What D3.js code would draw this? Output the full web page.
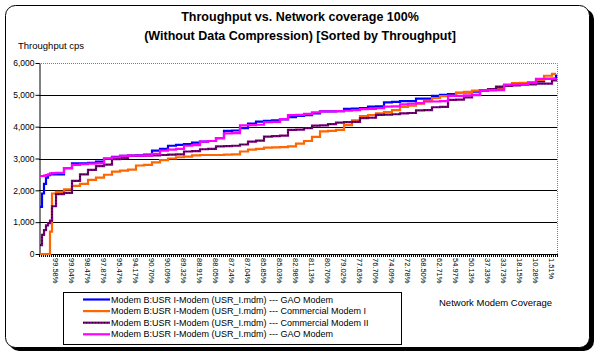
<!DOCTYPE html>
<html>
<head>
<meta charset="utf-8">
<script src="https://cdn.jsdelivr.net/npm/d3@7/dist/d3.min.js"></script>
<style>
	body { margin: 0; background: #fff; }
	text { font-family: Arial, "Liberation Sans", sans-serif; fill: #000; }
</style>
</head>
<body>
<div id="chart"></div>
<script>
// Category axis: 259 coverage points, one label every 8th point
var nCategories = 259;
var tickLabels = ["99.58%", "99.04%", "98.47%", "97.87%", "95.47%", "94.17%", "90.70%", "90.09%",
	"89.32%", "88.91%", "88.05%", "87.24%", "87.04%", "85.85%", "85.03%", "82.98%",
	"81.13%", "80.70%", "79.02%", "77.63%", "76.70%", "74.09%", "72.78%", "68.50%",
	"62.71%", "54.97%", "50.13%", "37.33%", "33.73%", "18.15%", "10.28%", "1.51%"];
var yTicks = [0, 1000, 2000, 3000, 4000, 5000, 6000];

// category index of each sampled value
var sampleIdx = [0, 1, 2, 3, 4, 5, 6,
	8, 12, 16, 20, 24, 28, 32, 36, 40, 44,
	48, 52, 56, 60, 64, 68, 72, 76, 80, 84,
	88, 92, 96, 100, 104, 108, 112, 116, 120, 124,
	128, 132, 136, 140, 144, 148, 152, 156, 160, 164,
	168, 172, 176, 180, 184, 188, 192, 196, 200, 204,
	208, 212, 216, 220, 224, 228, 232, 236, 240, 244,
	248, 252, 256,
	258];

var gaoModemA = [1480, 1900, 2200, 2400, 2480, 2500, 2500,
	2500, 2700, 2850, 2850, 2860, 2900, 3000, 3050, 3080, 3090,
	3100, 3120, 3250, 3300, 3400, 3430, 3450, 3500, 3530, 3550,
	3640, 3870, 3880, 3950, 4100, 4160, 4180, 4200, 4230, 4300,
	4340, 4360, 4420, 4480, 4480, 4490, 4560, 4570, 4580, 4630,
	4640, 4760, 4780, 4800, 4800, 4880, 4880, 4970, 5000, 5020,
	5060, 5080, 5100, 5140, 5150, 5220, 5300, 5320, 5370, 5380,
	5420, 5500, 5500,
	5640];

var commercialI = [0, 0, 0, 0, 0, 700, 1900,
	1950, 2030, 2140, 2200, 2330, 2400, 2490, 2590, 2620, 2650,
	2780, 2800, 2880, 2950, 3000, 3040, 3060, 3100, 3110, 3110,
	3110, 3120, 3130, 3220, 3280, 3300, 3340, 3350, 3360, 3380,
	3470, 3550, 3680, 3850, 3870, 3900, 4050, 4200, 4330, 4360,
	4420, 4460, 4520, 4620, 4660, 4720, 4800, 4900, 4960, 4970,
	5060, 5090, 5130, 5150, 5160, 5170, 5280, 5370, 5380, 5400,
	5470, 5600, 5660,
	5660];

var commercialII = [280, 600, 750, 900, 970, 1050, 1500,
	1880, 1920, 2300, 2500, 2640, 2760, 2810, 2980, 3020, 3080,
	3080, 3090, 3100, 3110, 3120, 3130, 3220, 3230, 3290, 3300,
	3380, 3390, 3400, 3440, 3530, 3560, 3690, 3700, 3720, 3900,
	3910, 3950, 4030, 4040, 4080, 4130, 4140, 4150, 4270, 4280,
	4370, 4380, 4390, 4420, 4430, 4510, 4520, 4610, 4620, 4840,
	4850, 4920, 5000, 5140, 5180, 5260, 5280, 5300, 5320, 5330,
	5350, 5350, 5450,
	5500];

var gaoModemB = [2450, 2450, 2460, 2480, 2500, 2530, 2540,
	2550, 2700, 2800, 2820, 2840, 2850, 3000, 3040, 3080, 3090,
	3090, 3100, 3150, 3250, 3280, 3300, 3400, 3420, 3530, 3550,
	3640, 3790, 3800, 4040, 4050, 4060, 4140, 4150, 4240, 4360,
	4370, 4400, 4450, 4480, 4480, 4490, 4500, 4520, 4550, 4560,
	4580, 4630, 4640, 4700, 4720, 4740, 4790, 4790, 4800, 4970,
	4970, 4980, 4990, 5140, 5150, 5150, 5320, 5330, 5340, 5380,
	5500, 5500, 5510,
	5520];

var seriesNames = ["Modem B:USR I-Modem (USR_I.mdm) ---  GAO Modem",
	"Modem B:USR I-Modem (USR_I.mdm) ---  Commercial Modem I",
	"Modem B:USR I-Modem (USR_I.mdm) ---  Commercial Modem II",
	"Modem B:USR I-Modem (USR_I.mdm) ---  GAO Modem"];

var width = 600, height = 354;
var plot = {left: 39, right: 557, top: 63, bottom: 254};

var svg = d3.select("#chart").append("svg")
		.attr("width", width)
		.attr("height", height);

// Chart area with drop shadow
svg.append("rect")
		.attr("x", 9).attr("y", 9)
		.attr("width", 585).attr("height", 342)
		.attr("rx", 10)
		.style("fill", "#000");
svg.append("rect")
		.attr("x", 5.5).attr("y", 5.5)
		.attr("width", 584).attr("height", 342)
		.attr("rx", 10)
		.style("fill", "#fff")
		.style("stroke", "#000");

// Titles
svg.append("text")
		.attr("x", 300).attr("y", 17)
		.attr("text-anchor", "middle").attr("dy", "0.35em")
		.style("font-size", "12.5px").style("font-weight", "bold")
		.text("Throughput vs. Network coverage 100%");
svg.append("text")
		.attr("x", 300).attr("y", 36)
		.attr("text-anchor", "middle").attr("dy", "0.35em")
		.style("font-size", "12.5px").style("font-weight", "bold")
		.text("(Without Data Compression) [Sorted by Throughput]");
svg.append("text")
		.attr("x", 18).attr("y", 46)
		.attr("dy", "0.35em")
		.style("font-size", "9.5px")
		.text("Throughput cps");
svg.append("text")
		.attr("x", 439).attr("y", 303)
		.attr("dy", "0.35em")
		.style("font-size", "9.5px")
		.text("Network Modem Coverage");

// Scales
var xScale = d3.scaleBand().domain(d3.range(nCategories)).range([plot.left, plot.right]);
var yScale = d3.scaleLinear().domain([0, 6000]).range([plot.bottom, plot.top]);
var xMid = function(i) { return xScale(i) + xScale.bandwidth() / 2; };

// Gridlines
svg.append("g").attr("class", "grid")
	.selectAll("line")
	.data(yTicks.filter(function(d) { return d > 0 && d < 6000; }))
	.enter().append("line")
		.attr("x1", plot.left).attr("x2", plot.right)
		.attr("y1", function(d) { return Math.round(yScale(d)) + 0.5; })
		.attr("y2", function(d) { return Math.round(yScale(d)) + 0.5; })
		.style("stroke", "#000");

// Plot area border (top / right), dotted grey
svg.append("path")
		.attr("d", "M" + plot.left + "," + (plot.top + 0.5) + "H" + (plot.right + 0.5) + "V" + plot.bottom)
		.style("fill", "none")
		.style("stroke", "#808080")
		.style("stroke-dasharray", "1,1");

// Y axis
var yAxis = d3.axisLeft(yScale).tickValues(yTicks).tickSize(4).tickSizeOuter(0).tickFormat(d3.format(","));
var gy = svg.append("g")
		.attr("transform", "translate(" + (plot.left + 0.5) + ",0)")
		.call(yAxis);
gy.selectAll("text").style("font-size", "8.5px").attr("x", -5);
gy.selectAll("line, path").style("stroke", "#000");

// X axis with a tick at every category boundary
var gx = svg.append("g").attr("class", "x axis");
gx.append("line")
		.attr("x1", plot.left).attr("x2", plot.right + 1)
		.attr("y1", plot.bottom + 0.5).attr("y2", plot.bottom + 0.5)
		.style("stroke", "#000");
gx.selectAll(".minor")
	.data(d3.range(nCategories + 1))
	.enter().append("line")
		.attr("class", "minor")
		.attr("x1", function(d) { return (d < nCategories ? xScale(d) : plot.right) + 0.5; })
		.attr("x2", function(d) { return (d < nCategories ? xScale(d) : plot.right) + 0.5; })
		.attr("y1", plot.bottom).attr("y2", plot.bottom + 3)
		.style("stroke", "#000");
gx.selectAll(".label")
	.data(tickLabels)
	.enter().append("text")
		.attr("class", "label")
		.attr("transform", function(d, i) { return "translate(" + xMid(8 + i * 8) + "," + (plot.bottom + 4) + ") rotate(90)"; })
		.attr("dy", "0.35em")
		.style("font-size", "7.5px")
		.text(function(d) { return d; });

// Lines
var series = [
	{name: seriesNames[0], values: gaoModemA, color: "#0000ff"},
	{name: seriesNames[1], values: commercialI, color: "#ff6600"},
	{name: seriesNames[2], values: commercialII, color: "#800080", dotted: true},
	{name: seriesNames[3], values: gaoModemB, color: "#ff00ff"}
];

var line = d3.line()
		.x(function(d) { return xMid(d.i); })
		.y(function(d) { return yScale(d.v); })
		.curve(d3.curveStepAfter);

var body = svg.append("g").attr("class", "chart-body");
series.forEach(function(s) {
	var pts = sampleIdx.map(function(idx, k) { return {i: idx, v: s.values[k]}; });
	body.append("path")
			.attr("d", line(pts))
			.style("fill", "none")
			.style("stroke", s.color)
			.style("stroke-width", 2.2);
	if (s.dotted) {
		body.append("path")
				.attr("d", line(pts))
				.style("fill", "none")
				.style("stroke", "#000")
				.style("stroke-width", 1)
				.style("stroke-dasharray", "1,2");
	}
});

// Legend
var legend = svg.append("g").attr("class", "legend");
legend.append("rect")
		.attr("x", 63.5).attr("y", 292.5)
		.attr("width", 338).attr("height", 52)
		.style("fill", "#fff").style("stroke", "#000");
var items = legend.selectAll(".legend-group")
	.data(series)
	.enter().append("g")
		.attr("class", "legend-group")
		.attr("transform", function(d, i) { return "translate(0," + (299.5 + i * 11.6) + ")"; });
items.append("line")
		.attr("x1", 83).attr("x2", 110)
		.style("stroke", function(d) { return d.color; })
		.style("stroke-width", 2.2);
items.filter(function(d) { return d.dotted; }).append("line")
		.attr("x1", 83).attr("x2", 110)
		.style("stroke", "#000")
		.style("stroke-dasharray", "1,2");
items.append("text")
		.attr("x", 111).attr("dy", "0.35em")
		.style("font-size", "9px")
		.text(function(d) { return d.name; });
</script>
</body>
</html>
